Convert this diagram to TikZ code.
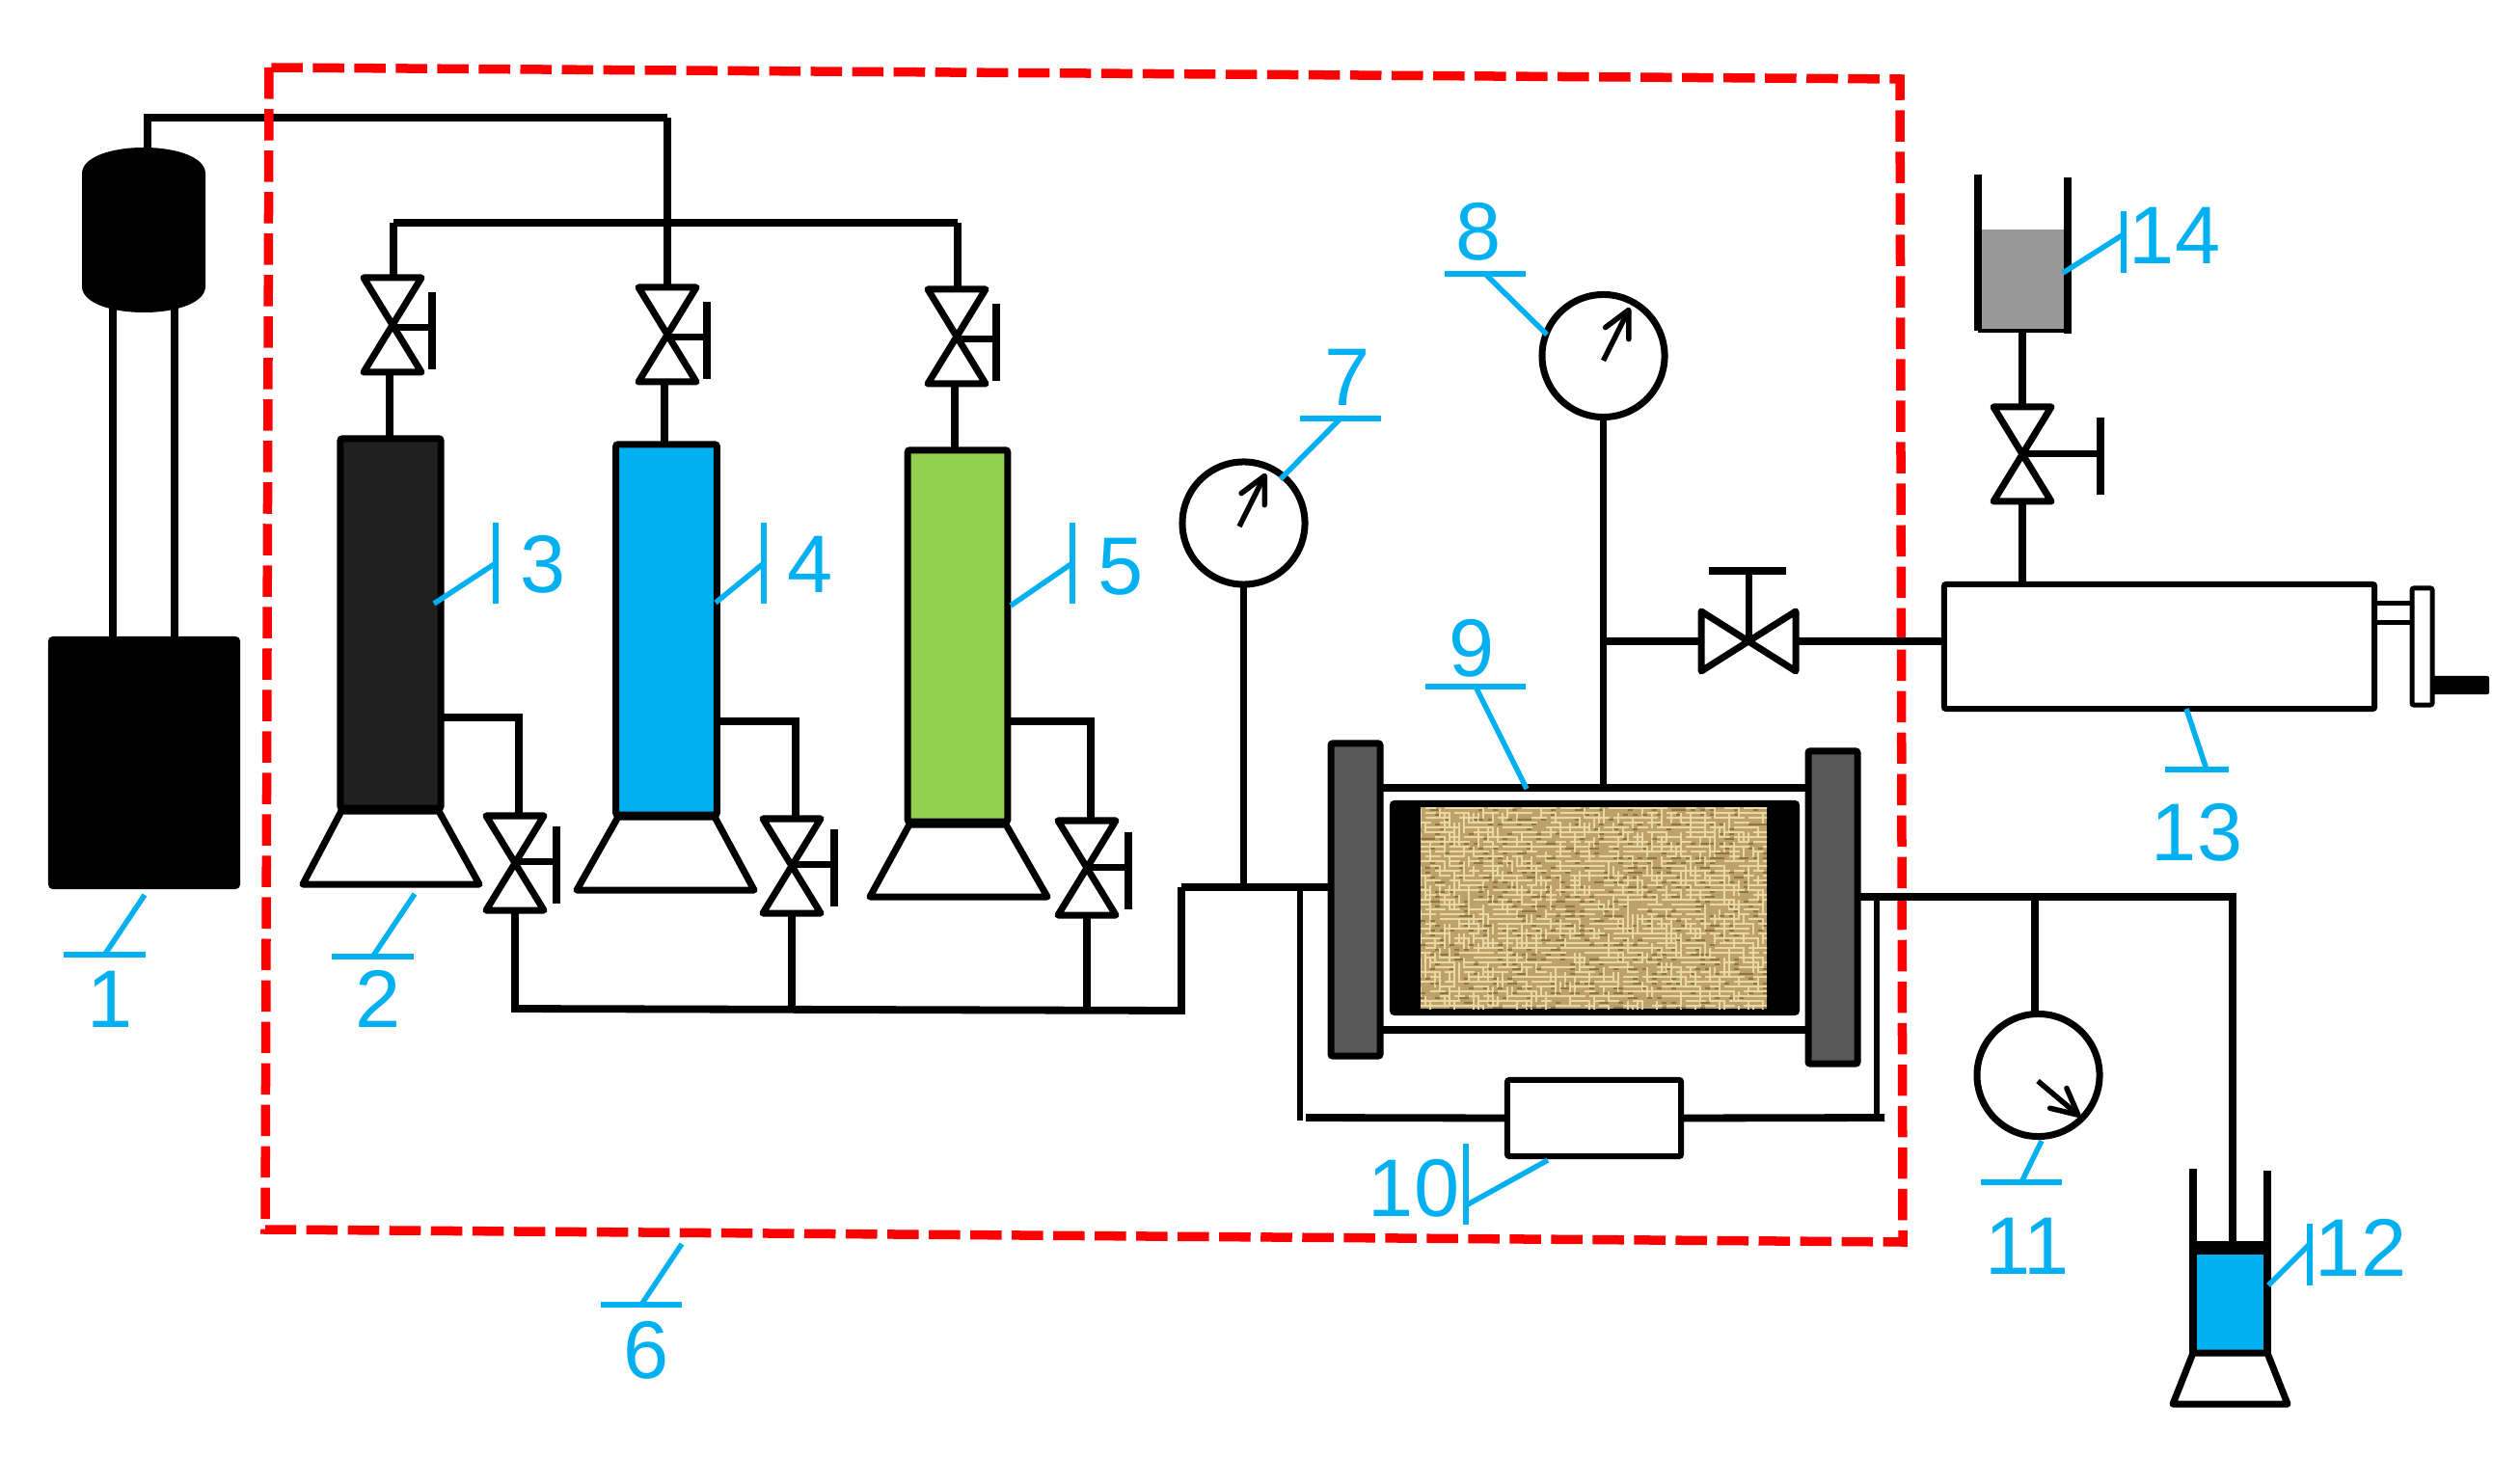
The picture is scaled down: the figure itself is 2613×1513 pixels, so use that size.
\documentclass[tikz,border=0pt]{standalone}
\usepackage{fontspec}
\setmainfont{Liberation Sans}
\usetikzlibrary{arrows.meta}
\definecolor{tagblue}{HTML}{00B0F0}
\definecolor{oilgreen}{HTML}{92D050}
\definecolor{darkgas}{HTML}{202020}
\definecolor{capgrey}{HTML}{595959}
\definecolor{brinegrey}{HTML}{999999}
\definecolor{sandbase}{HTML}{BDA169}
\definecolor{sandlight}{HTML}{EAD8A4}
\definecolor{sanddark}{HTML}{6E5A2E}
\tikzset{
  pipe/.style={line width=0.078cm},
  part/.style={line width=0.07cm,line join=round},
  unit/.style={draw,line width=0.07cm,rounded corners=0.02cm,inner sep=0pt,outer sep=0pt},
  gauge/.style={circle,draw,line width=0.07cm,minimum size=1.27cm,inner sep=0pt,outer sep=0pt},
  needle/.style={line width=0.055cm,-{Straight Barb[length=0.27cm,width=0.27cm,round]}},
  leader/.style={tagblue,line width=0.055cm},
  hbar/.style={fill=tagblue,minimum width=0.84cm,minimum height=0.06cm,inner sep=0pt,outer sep=0pt},
  vbar/.style={fill=tagblue,minimum width=0.06cm,minimum height=0.84cm,inner sep=0pt,outer sep=0pt},
  tag/.style={text=tagblue,inner sep=0pt,font=\fontsize{24.1}{29}\selectfont},
  pics/valve/.style n args={2}{code={
    \draw[part] (-30,-49) -- (30,-49) -- (-30,49) -- (30,49) -- cycle;
    \draw[part] (0,#2-3) -- (#1,#2-3);
    \draw[pipe] (#1,#2-40) -- (#1,#2+40);
    \coordinate (-top) at (0,-49);
    \coordinate (-bot) at (0,49);
  }},
  pics/stopvalve/.style={code={
    \draw[part] (-49,-31) -- (-49,31) -- (49,-31) -- (49,31) -- cycle;
    \draw[part] (0,0) -- (0,-73);
    \draw[pipe] (-41,-73) -- (39,-73);
    \coordinate (-in) at (-49,0);
    \coordinate (-out) at (49,0);
  }}
}
\begin{document}
\begin{tikzpicture}[x=0.01cm,y=-0.01cm]
  \path[use as bounding box,fill=white] (0,0) rectangle (2613,1513);

  % Pump 1 with its tank
  \fill (85,180) .. controls (85,163) and (115,153) .. (149,153)
    .. controls (183,153) and (213,163) .. (213,180) -- (213,297)
    .. controls (213,314) and (183,324) .. (149,324)
    .. controls (115,324) and (85,314) .. (85,297) -- cycle;
  \node[unit,fill=black,minimum width=1.92cm,minimum height=2.55cm] (baseA) at (149.5,791) {};
  \coordinate (tankOut) at (153,153);
  \coordinate (teeTop) at (692,122);
  \coordinate (legL) at (117,320);
  \coordinate (legR) at (181,320);
  \draw[pipe] (legL) -- (legL |- baseA.north);
  \draw[pipe] (legR) -- (legR |- baseA.north);
  \draw[pipe] (tankOut) |- (teeTop);

  % Dashed frame 6
  \draw[red,line width=0.095cm,dash pattern=on 0.325cm off 0.105cm]
    (279,70) -- (275,1275) -- (1973,1288) -- (1970,82) -- cycle;

  % Vessels with stands
  \node[unit,fill=darkgas,minimum width=1.04cm,minimum height=3.83cm] (vesselC) at (405,646.5) {};
  \node[unit,fill=tagblue,minimum width=1.045cm,minimum height=3.84cm] (vesselD) at (691,653) {};
  \node[unit,fill=oilgreen,minimum width=1.035cm,minimum height=3.85cm] (vesselE) at (993,659.5) {};
  \draw[part] (354,841) -- (455,841) -- (497,917) -- (314,917) -- cycle;
  \draw[part] (641,847) -- (741,847) -- (782,923) -- (598,923) -- cycle;
  \draw[part] (943,855) -- (1043,855) -- (1086,930) -- (902,930) -- cycle;

  % Valves above the vessels
  \pic (topC) at (407,337) {valve={41}{6}};
  \pic (topD) at (692,347) {valve={41}{6}};
  \pic (topE) at (992,349) {valve={41}{6}};
  \coordinate (rowL) at (408,231);
  \coordinate (rowR) at (993,231);
  \draw[pipe] (rowL) -- (rowL |- topC-top);
  \draw[pipe] (rowL) -- (rowR);
  \draw[pipe] (rowR) -- (rowR |- topE-top);
  \draw[pipe] (teeTop) -- (teeTop |- topD-top);
  \draw[pipe] ([xshift=-0.03cm]topC-bot) -- ([xshift=-0.03cm]topC-bot |- vesselC.north);
  \draw[pipe] ([xshift=-0.03cm]topD-bot) -- ([xshift=-0.03cm]topD-bot |- vesselD.north);
  \draw[pipe] ([xshift=-0.02cm]topE-bot) -- ([xshift=-0.02cm]topE-bot |- vesselE.north);

  % Valves beside the vessels
  \pic (lowC) at (534,895) {valve={43}{1.5}};
  \pic (lowD) at (821,898) {valve={44}{1.5}};
  \pic (lowE) at (1127,900) {valve={43}{2.5}};
  \coordinate (outC) at (457,744);
  \coordinate (outD) at (743,748);
  \coordinate (outE) at (1045,748);
  \draw[pipe] (outC) -| ([xshift=0.04cm]lowC-top);
  \draw[pipe] (outD) -| ([xshift=0.04cm]lowD-top);
  \draw[pipe] (outE) -| ([xshift=0.04cm]lowE-top);

  % Collecting line to the holder
  \coordinate (rowStart) at (530,1046);
  \coordinate (rowEnd) at (1225,1048);
  \coordinate (inlet) at (1225,920);
  \draw[pipe] (rowStart) -- (rowEnd) -- (inlet);
  \draw[pipe] (lowC-bot) -- (lowC-bot |- rowStart);
  \draw[pipe] (lowD-bot) -- (lowD-bot |- rowStart);
  \draw[pipe] (lowE-bot) -- (lowE-bot |- rowEnd);

  % Core holder 9
  \node[unit,fill=capgrey,minimum width=0.51cm,minimum height=3.24cm] (capL) at (1405.5,933) {};
  \node[unit,fill=capgrey,minimum width=0.51cm,minimum height=3.24cm] (capR) at (1900.5,941) {};
  \node[unit,fill=black,minimum width=4.18cm,minimum height=2.16cm] (sleeve) at (1653.5,941.5) {};
  \begin{scope}
    \clip (1473,837) rectangle (1832,1046);
    \fill[sandbase] (1473,837) rectangle (1832,1046);
    \pgfmathsetseed{2741}
    \foreach \i in {0,...,71}{
      \foreach \j in {0,...,41}{
        \pgfmathsetmacro\pick{int(mod(rnd*1000,5))}
        \ifnum\pick<2
          \draw[sandlight,line width=0.02cm] ({1473+5*\i},{838+5*\j}) -- ++(11,0);
        \else\ifnum\pick=2
          \draw[sandlight,line width=0.02cm] ({1473+5*\i},{838+5*\j}) -- ++(0,11);
        \else\ifnum\pick=3
          \draw[sanddark,line width=0.016cm,opacity=0.6] ({1473+5*\i},{840+5*\j}) -- ++(5,0);
        \fi\fi\fi
      }
    }
  \end{scope}
  \coordinate (bodyTopL) at (1434,817);
  \coordinate (bodyTopR) at (1872,817);
  \coordinate (bodyLowL) at (1434,1068);
  \coordinate (bodyLowR) at (1872,1068);
  \draw[pipe] (bodyTopL) -- (bodyTopR);
  \draw[pipe] (bodyLowL) -- (bodyLowR);

  % Confining pressure loop with 10
  \node[unit,fill=white,line width=0.06cm,minimum width=1.8cm,minimum height=0.79cm] (boxJ) at (1653,1159.5) {};
  \coordinate (loopL) at (1348,921);
  \coordinate (loopR) at (1946,930);
  \draw[pipe] (inlet) -- (inlet -| capL.west);
  \draw[line width=0.06cm] (loopL) -- (1348,1162);
  \draw[pipe] (1354,1159) -- (boxJ.west);
  \draw[pipe] (boxJ.east) -- (1954,1159);
  \draw[line width=0.06cm] (loopR) -- (1946,1159);

  % Gauges 7 and 8
  \node[gauge] (gaugeG) at (1289.5,542.5) {};
  \node[gauge] (gaugeH) at (1662.5,369) {};
  \draw[needle] ([shift={(-4.5,3.5)}]gaugeG.center) -- ([shift={(23,-51.5)}]gaugeG.center);
  \draw[needle] ([shift={(0,5)}]gaugeH.center) -- ([shift={(27.5,-50)}]gaugeH.center);
  \draw[pipe] (gaugeG.south) -- (gaugeG.south |- inlet);
  \draw[pipe] (gaugeH.south) -- (gaugeH.south |- bodyTopL);

  % Pump 13 with crank
  \node[unit,line width=0.06cm,minimum width=4.46cm,minimum height=1.29cm] (pumpM) at (2239,670.5) {};
  \pic (stopK) at (1813,665) {stopvalve};
  \coordinate (teeH) at (1663,665);
  \draw[pipe] (teeH) -- (stopK-in);
  \draw[pipe] (stopK-out) -- (stopK-out -| pumpM.west);
  \node[unit,line width=0.05cm,minimum width=0.21cm,minimum height=1.21cm] (plateM) at (2511.5,670.5) {};
  \draw[line width=0.05cm] (pumpM.east |- 2480,626) -- (plateM.west |- 2480,626);
  \draw[line width=0.05cm] (pumpM.east |- 2480,646) -- (plateM.west |- 2480,646);
  \node[fill=black,rounded corners=0.02cm,minimum width=0.59cm,minimum height=0.19cm,inner sep=0pt,outer sep=0pt] (crankM) at (2551.5,710.5) {};

  % Beaker 14 above the pump
  \node[fill=brinegrey,minimum width=0.93cm,minimum height=1.05cm,inner sep=0pt,outer sep=0pt] (liquidN) at (2097.5,290.5) {};
  \draw[line width=0.08cm] (2051,181) -- (2051,343);
  \draw[line width=0.08cm] (2144,184) -- (2144,346);
  \draw[line width=0.04cm] (2051,343) -- (2144,343);
  \pic (valveN) at (2097,471) {valve={81}{2.5}};
  \draw[pipe] (valveN-top) -- (valveN-top |- liquidN.south);
  \draw[pipe] (valveN-bot) -- (valveN-bot |- pumpM.north);

  % Outlet line, gauge 11 and cylinder 12
  \node[gauge] (gaugeL) at (2113.5,1115) {};
  \draw[needle] ([shift={(-0.5,6)}]gaugeL.center) -- ([shift={(43.5,43)}]gaugeL.center);
  \coordinate (outlet) at (1929,930);
  \coordinate (elbow) at (2315,930);
  \coordinate (piston) at (2315,1290);
  \coordinate (teeL) at (2110,930);
  \draw[pipe] (outlet) -- (elbow) -- (piston);
  \draw[pipe] (teeL) -- (teeL |- gaugeL.north);
  \node[fill=tagblue,minimum width=0.77cm,minimum height=1.01cm,inner sep=0pt,outer sep=0pt] (liquidL) at (2312.5,1350) {};
  \fill (2270,1287) rectangle (2355,1301);
  \draw[line width=0.08cm] (2274,1212) -- (2274,1405);
  \draw[line width=0.08cm] (2351,1214) -- (2351,1405);
  \draw[part] (2274,1403) -- (2351,1403) -- (2372,1456) -- (2253,1456) -- cycle;

  % Labels with their leaders
  \node[tag] (tagA) at (114,1036) {1};
  \node[hbar] (barA) at (108.5,990) {};
  \coordinate (tipA) at (150,928);
  \draw[leader] (barA.center) -- (tipA);

  \node[tag] (tagB) at (392,1036) {2};
  \node[hbar] (barB) at (386.5,992) {};
  \coordinate (tipB) at (430,927);
  \draw[leader] (barB.center) -- (tipB);

  \node[tag] (tagC) at (563,585) {3};
  \node[vbar] (barC) at (514,584) {};
  \coordinate (tipC) at (450,626);
  \draw[leader] (barC.center) -- (tipC);

  \node[tag] (tagD) at (840,585) {4};
  \node[vbar] (barD) at (792,584) {};
  \coordinate (tipD) at (742,625);
  \draw[leader] (barD.center) -- (tipD);

  \node[tag] (tagE) at (1162,588) {5};
  \node[vbar] (barE) at (1112,584) {};
  \coordinate (tipE) at (1048,628);
  \draw[leader] (barE.center) -- (tipE);

  \node[tag] (tagF) at (670,1400) {6};
  \node[hbar] (barF) at (665,1353) {};
  \coordinate (tipF) at (707,1290);
  \draw[leader] (barF.center) -- (tipF);

  \node[tag] (tagG) at (1397,391) {7};
  \node[hbar] (barG) at (1390,434) {};
  \coordinate (tipG) at (1327.5,497);
  \draw[leader] (barG.center) -- (tipG);

  \node[tag] (tagH) at (1533,240) {8};
  \node[hbar] (barH) at (1540,284) {};
  \coordinate (tipH) at (1604,347);
  \draw[leader] (barH.center) -- (tipH);

  \node[tag] (tagI) at (1526,672) {9};
  \node[hbar,minimum width=1.04cm] (barI) at (1530,712) {};
  \coordinate (tipI) at (1583,818);
  \draw[leader] (barI.center) -- (tipI);

  \node[tag] (tagJ) at (1466,1232) {10};
  \node[vbar] (barJ) at (1520,1228) {};
  \coordinate (tipJ) at (1605,1203);
  \draw[leader] ([yshift=-0.22cm]barJ.center) -- (tipJ);

  \node[tag] (tagL) at (2102,1292) {11};
  \node[hbar] (barL) at (2096,1226) {};
  \coordinate (tipL) at (2117,1183);
  \draw[leader] (barL.center) -- (tipL);

  \node[tag] (tagK) at (2448,1294) {12};
  \node[vbar,minimum height=0.64cm] (barK) at (2395,1301) {};
  \coordinate (tipK) at (2352,1333);
  \draw[leader] ([yshift=0.11cm]barK.center) -- (tipK);

  \node[tag] (tagM) at (2278,863) {13};
  \node[hbar,minimum width=0.66cm] (barM) at (2278,798) {};
  \coordinate (tipM) at (2267,735);
  \draw[leader] ([xshift=0.1cm]barM.center) -- (tipM);

  \node[tag] (tagN) at (2255,244) {14};
  \node[vbar,minimum height=0.64cm] (barN) at (2202,251) {};
  \coordinate (tipN) at (2139,283);
  \draw[leader] ([yshift=0.08cm]barN.center) -- (tipN);
\end{tikzpicture}
\end{document}
